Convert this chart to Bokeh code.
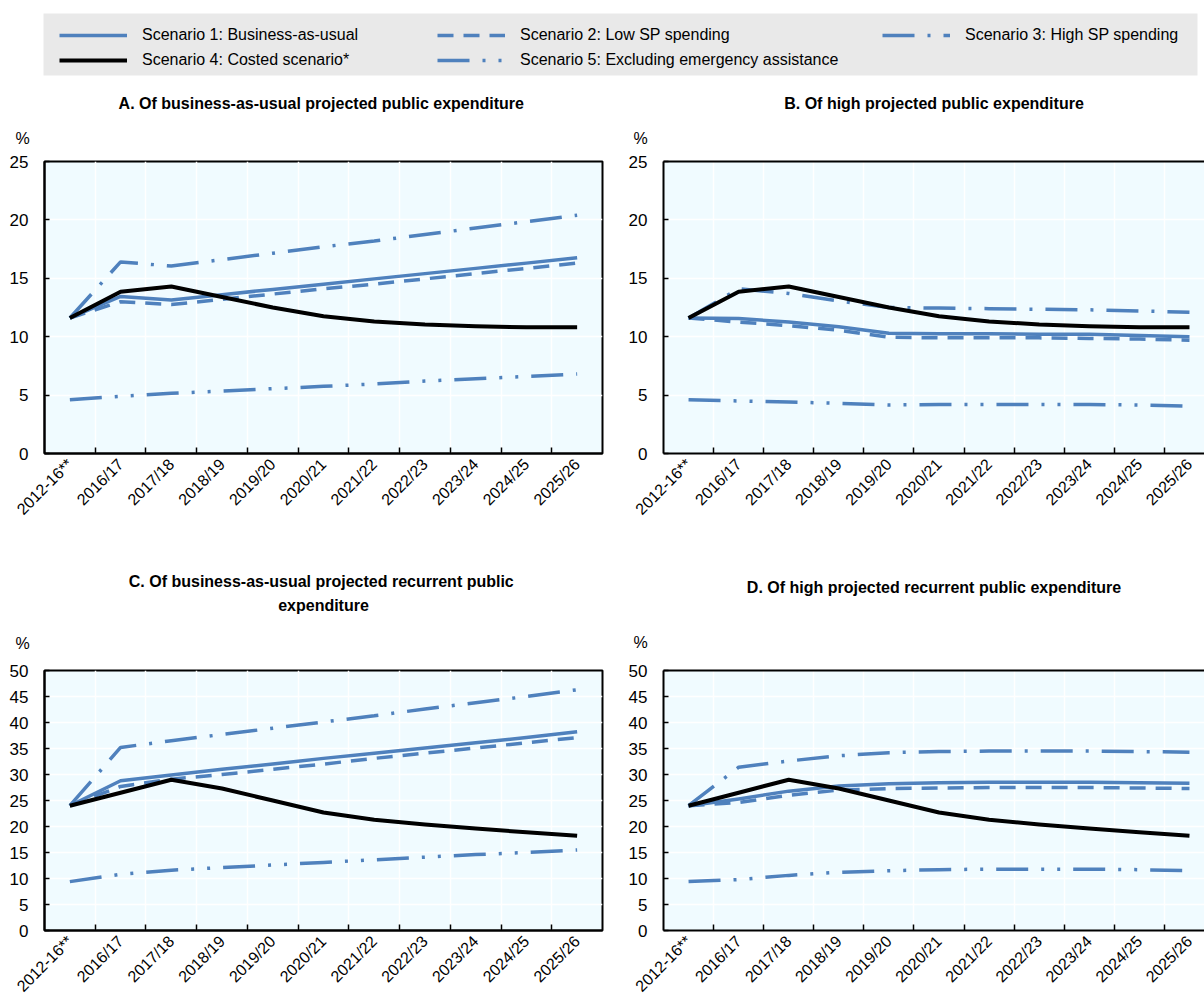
import math
from bokeh.plotting import figure
from bokeh.models import Range1d, FixedTicker, Legend, LegendItem, LinearAxis, Title
from bokeh.layouts import column, row
from bokeh.embed import file_html
from bokeh.resources import INLINE

# ---------------- data ----------------
categories = ["2012-16**", "2016/17", "2017/18", "2018/19", "2019/20", "2020/21",
              "2021/22", "2022/23", "2023/24", "2024/25", "2025/26"]

series_names = ["Scenario 1: Business-as-usual", "Scenario 2: Low SP spending",
                "Scenario 3: High SP spending", "Scenario 4: Costed scenario*",
                "Scenario 5: Excluding emergency assistance"]

# A. Of business-as-usual projected public expenditure
a_s1 = [11.6, 13.45, 13.15, 13.6, 14.05, 14.5, 14.95, 15.4, 15.85, 16.3, 16.75]
a_s2 = [11.6, 13.0, 12.75, 13.2, 13.65, 14.1, 14.5, 14.95, 15.4, 15.85, 16.3]
a_s3 = [11.6, 16.4, 16.05, 16.6, 17.15, 17.7, 18.2, 18.75, 19.3, 19.85, 20.4]
a_s4 = [11.6, 13.85, 14.3, 13.4, 12.5, 11.75, 11.3, 11.05, 10.9, 10.8, 10.8]
a_s5 = [4.6, 4.9, 5.15, 5.35, 5.55, 5.75, 5.95, 6.2, 6.4, 6.6, 6.8]

# B. Of high projected public expenditure
b_s1 = [11.6, 11.55, 11.25, 10.85, 10.3, 10.25, 10.25, 10.2, 10.2, 10.1, 10.0]
b_s2 = [11.6, 11.25, 10.95, 10.55, 9.95, 9.9, 9.9, 9.9, 9.85, 9.8, 9.7]
b_s3 = [11.6, 14.1, 13.7, 13.05, 12.5, 12.45, 12.4, 12.35, 12.3, 12.2, 12.1]
b_s4 = [11.6, 13.85, 14.3, 13.4, 12.5, 11.75, 11.3, 11.05, 10.9, 10.8, 10.8]
b_s5 = [4.6, 4.5, 4.4, 4.3, 4.15, 4.2, 4.2, 4.2, 4.2, 4.15, 4.05]

# C. Of business-as-usual projected recurrent public expenditure
c_s1 = [24.0, 28.8, 29.9, 31.0, 32.0, 33.1, 34.1, 35.1, 36.1, 37.1, 38.2]
c_s2 = [24.0, 27.7, 29.1, 30.0, 31.0, 32.0, 33.1, 34.1, 35.1, 36.1, 37.1]
c_s3 = [24.0, 35.2, 36.5, 37.7, 38.9, 40.1, 41.3, 42.6, 43.8, 45.0, 46.3]
c_s4 = [24.0, 26.5, 29.0, 27.3, 25.0, 22.7, 21.3, 20.4, 19.6, 18.9, 18.2]
c_s5 = [9.4, 10.8, 11.6, 12.1, 12.6, 13.1, 13.6, 14.1, 14.6, 15.0, 15.5]

# D. Of high projected recurrent public expenditure
d_s1 = [24.0, 25.3, 26.8, 27.8, 28.2, 28.4, 28.5, 28.5, 28.5, 28.4, 28.3]
d_s2 = [24.0, 24.6, 26.0, 27.0, 27.3, 27.4, 27.5, 27.5, 27.5, 27.4, 27.3]
d_s3 = [24.0, 31.4, 32.6, 33.6, 34.2, 34.4, 34.5, 34.5, 34.5, 34.4, 34.3]
d_s4 = [24.0, 26.5, 29.0, 27.3, 25.0, 22.7, 21.3, 20.4, 19.6, 18.9, 18.2]
d_s5 = [9.4, 9.8, 10.6, 11.2, 11.5, 11.7, 11.8, 11.8, 11.8, 11.7, 11.5]

# panel titles (C wraps onto two lines)
title_a = ["A. Of business-as-usual  projected public expenditure"]
title_b = ["B. Of high projected public expenditure"]
title_c = ["C. Of business-as-usual  projected recurrent public", "expenditure"]
title_d = ["D. Of high projected recurrent public expenditure"]

y_ticks_top = [0, 5, 10, 15, 20, 25]
y_ticks_bottom = [0, 5, 10, 15, 20, 25, 30, 35, 40, 45, 50]

# ---------------- style ----------------
FONT = "Liberation Sans Narrow, Arial Narrow, Liberation Sans, Arial, sans-serif"
FS = "16px"
FS_Y = "17px"
BLUE = "#4F81BD"
BG = "#F0FBFF"
STYLES = [
    dict(line_color=BLUE, line_width=3.5, line_dash="solid", line_join="round"),
    dict(line_color=BLUE, line_width=3.5, line_dash="16 10"),
    dict(line_color=BLUE, line_width=3.5, line_dash="32 13 3 13"),
    dict(line_color="black", line_width=4, line_dash="solid", line_join="round"),
    dict(line_color=BLUE, line_width=3.5, line_dash="32 13 3 13 3 13"),
]
DRAW_ORDER = [4, 2, 1, 0, 3]

idx = list(range(len(categories)))
bounds = [i + 0.5 for i in range(len(categories) - 1)]


def make_panel(title_lines, title_standoffs, series, ymax, yticks, width, height,
               mbl, mbr, mbt, mbb, xend, pct_offset, pct_standoff, full_outline):
    p = figure(width=width, height=height, x_range=Range1d(-0.5, xend),
               y_range=Range1d(0, ymax), output_backend="svg", toolbar_location=None,
               min_border_left=mbl, min_border_right=mbr, min_border_top=mbt,
               min_border_bottom=mbb)
    p.background_fill_color = BG
    p.border_fill_color = "white"

    # x axis
    xa = p.below[0]
    xa.ticker = FixedTicker(ticks=idx, minor_ticks=bounds)
    xa.major_label_overrides = {i: c for i, c in enumerate(categories)}
    xa.major_label_orientation = math.pi / 4
    xa.major_tick_line_color = None
    xa.major_tick_in = 0
    xa.major_tick_out = 0
    xa.minor_tick_line_color = "black"
    xa.minor_tick_line_width = 1.5
    xa.minor_tick_in = 6
    xa.minor_tick_out = 0
    xa.axis_line_width = 2
    xa.axis_line_color = "black"
    xa.major_label_text_font = FONT
    xa.major_label_text_font_size = FS
    xa.major_label_text_color = "black"
    xa.major_label_standoff = 8

    # y axis
    ya = p.left[0]
    ya.ticker = FixedTicker(ticks=yticks)
    ya.major_tick_in = 5
    ya.major_tick_out = 0
    ya.major_tick_line_width = 1.5
    ya.minor_tick_line_color = None
    ya.axis_line_width = 2
    ya.axis_line_color = "black"
    ya.major_label_text_font = FONT
    ya.major_label_text_font_size = FS_Y
    ya.major_label_text_color = "black"
    ya.major_label_standoff = 16

    p.xgrid.ticker = FixedTicker(ticks=bounds)
    p.ygrid.ticker = FixedTicker(ticks=yticks)
    p.xgrid.grid_line_color = "white"
    p.ygrid.grid_line_color = "white"
    p.xgrid.grid_line_width = 1.5
    p.ygrid.grid_line_width = 1.5

    if full_outline:
        p.outline_line_color = "black"
        p.outline_line_width = 2
    else:
        p.outline_line_color = None
        top = LinearAxis(ticker=FixedTicker(ticks=[]), major_label_text_font_size="0px",
                         axis_line_width=2, axis_line_color="black",
                         major_tick_line_color=None, minor_tick_line_color=None,
                         major_tick_in=0, major_tick_out=0, minor_tick_in=0,
                         minor_tick_out=0, major_label_standoff=0)
        p.add_layout(top, "above")

    for k in DRAW_ORDER:
        p.line(idx, series[k], **STYLES[k])

    p.add_layout(Title(text="%", align="left", offset=pct_offset, standoff=pct_standoff,
                       text_font=FONT, text_font_size=FS, text_font_style="normal",
                       text_color="black"), "above")
    # lines are stacked from the frame outward: last line first
    for line, so in zip(reversed(title_lines), reversed(title_standoffs)):
        p.add_layout(Title(text=line, align="center", standoff=so, text_font=FONT,
                           text_font_size=FS, text_font_style="bold",
                           text_color="black"), "above")
    return p


pA = make_panel(title_a, [2], [a_s1, a_s2, a_s3, a_s4, a_s5], 25, y_ticks_top,
                610, 480, 44, 8, 81, 107, 10.5, -29, 30, True)
pB = make_panel(title_b, [2], [b_s1, b_s2, b_s3, b_s4, b_s5], 25, y_ticks_top,
                594, 480, 53, 0, 81, 107, 10.3, -30, 30, False)
pC = make_panel(title_c, [10, 0], [c_s1, c_s2, c_s3, c_s4, c_s5], 50, y_ticks_bottom,
                610, 443, 44, 8, 108, 67, 10.5, -29, 38, True)
pD = make_panel(title_d, [32], [d_s1, d_s2, d_s3, d_s4, d_s5], 50, y_ticks_bottom,
                594, 443, 53, 0, 108, 67, 10.3, -30, 40, False)

# ---------------- legend ----------------
leg = figure(width=1204, height=80, x_axis_type=None, y_axis_type=None,
             output_backend="svg", toolbar_location=None,
             min_border_left=43, min_border_right=7, min_border_top=13,
             min_border_bottom=5, x_range=Range1d(0, 10), y_range=Range1d(0, 30))
leg.background_fill_color = "#E9E9E9"
leg.border_fill_color = "white"
leg.outline_line_color = None
leg.grid.visible = False

a_series = [a_s1, a_s2, a_s3, a_s4, a_s5]
rs = []
for k in range(5):
    rs.append(leg.line(idx, a_series[k], visible=False, **STYLES[k]))


def make_legend(entries, loc):
    L = Legend(items=[LegendItem(label=series_names[k], renderers=[rs[k]]) for k in entries],
               location=loc)
    L.background_fill_alpha = 0
    L.border_line_color = None
    L.padding = 0
    L.margin = 0
    L.spacing = 3
    L.glyph_width = 68
    L.glyph_height = 22
    L.label_height = 22
    L.label_standoff = 15
    L.label_text_font = FONT
    L.label_text_font_size = FS
    L.label_text_color = "black"
    return L


leg.add_layout(make_legend([0, 3], (16, 4)))
leg.add_layout(make_legend([1, 4], (394, 4)))
leg.add_layout(make_legend([2], (839, 29)))

layout = column(leg, row(pA, pB, spacing=0), row(pC, pD, spacing=0), spacing=0)

with open("out.html", "w") as f:
    f.write(file_html(layout, INLINE))
